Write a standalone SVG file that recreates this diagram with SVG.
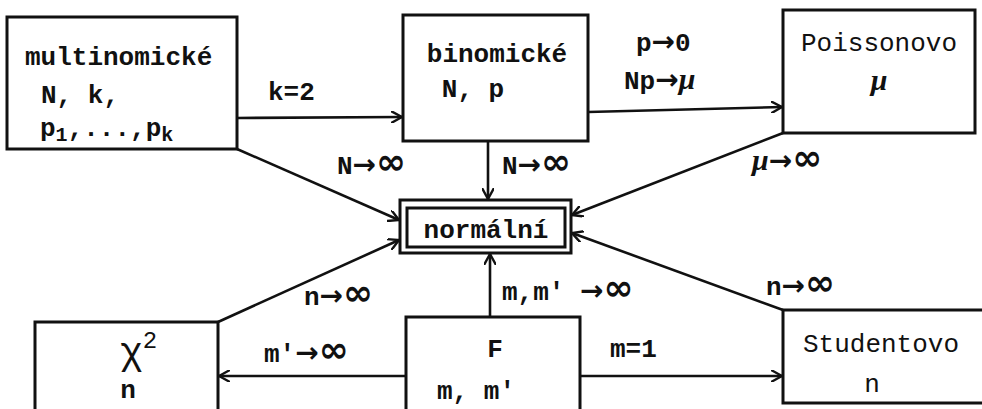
<svg xmlns="http://www.w3.org/2000/svg" width="982" height="409" viewBox="0 0 982 409">
<style>
.box{fill:#fff;stroke:#111;stroke-width:3}
.ln{stroke:#111;stroke-width:2.6;fill:none;marker-end:url(#ah)}
text{font-family:"Liberation Mono","DejaVu Sans Mono",monospace;fill:#111}
.b{font-weight:bold;font-size:26px}
.r{font-size:26px}
.lab{font-weight:bold;font-size:26px}
.ar{font-family:"DejaVu Sans",sans-serif;font-size:28px;font-weight:bold}
.inf{font-size:36px;font-weight:bold;font-family:"DejaVu Sans",sans-serif}
.mu{font-family:"Liberation Serif",serif;font-style:italic;font-weight:bold}
</style>
<defs>
<marker id="ah" viewBox="0 0 12 12" refX="11" refY="6" markerWidth="12" markerHeight="12" markerUnits="userSpaceOnUse" orient="auto">
<path d="M0,0 L11,6 L0,12" fill="none" stroke="#111" stroke-width="2.4"/>
</marker>
</defs>
<rect width="982" height="409" fill="#fff"/>
<g id="connectors">
<line class="ln" x1="237" y1="118" x2="402" y2="117"/>
<line class="ln" x1="588" y1="112" x2="782" y2="107"/>
<line class="ln" x1="237" y1="149" x2="399" y2="220"/>
<line class="ln" x1="488" y1="141" x2="488" y2="199"/>
<line class="ln" x1="783" y1="133" x2="572" y2="215"/>
<line class="ln" x1="218" y1="322" x2="399" y2="240"/>
<line class="ln" x1="490" y1="317" x2="490" y2="254"/>
<line class="ln" x1="783" y1="310" x2="572" y2="233"/>
<line class="ln" x1="406" y1="376" x2="219" y2="376"/>
<line class="ln" x1="580" y1="376" x2="782" y2="376"/>
<text class="lab" x="268" y="100">k=2</text>
<text class="lab" x="337" y="174">N<tspan class="ar">→</tspan><tspan class="inf">∞</tspan></text>
<text class="lab" x="502" y="174">N<tspan class="ar">→</tspan><tspan class="inf">∞</tspan></text>
<text class="lab" x="752" y="170"><tspan class="mu" font-size="30">μ</tspan><tspan class="ar">→</tspan><tspan class="inf">∞</tspan></text>
<text class="lab" x="636" y="51">p<tspan class="ar">→</tspan>0</text>
<text class="lab" x="624" y="89">Np<tspan class="ar">→</tspan><tspan class="mu" font-size="30">μ</tspan></text>
<text class="lab" x="304" y="305">n<tspan class="ar">→</tspan><tspan class="inf">∞</tspan></text>
<text class="lab" x="264" y="362">m'<tspan class="ar">→</tspan><tspan class="inf">∞</tspan></text>
<text class="lab" x="502" y="300">m,m' <tspan class="ar">→</tspan><tspan class="inf">∞</tspan></text>
<text class="lab" x="610" y="357">m=1</text>
<text class="lab" x="766" y="295">n<tspan class="ar">→</tspan><tspan class="inf">∞</tspan></text>
</g>
<g id="multinomicke">
<rect class="box" x="7" y="17" width="230" height="132"/>
<text class="b" x="25" y="65" font-size="27">multinomické</text>
<text class="b" x="41" y="103">N, k,</text>
<text class="b" x="40" y="136">p<tspan font-size="20" dy="5">1</tspan><tspan dy="-5">,...,p</tspan><tspan font-size="20" dy="5">k</tspan></text>
</g>
<g id="binomicke">
<rect class="box" x="403" y="15" width="185" height="126"/>
<text class="b" x="497" y="62" text-anchor="middle" font-size="28">binomické</text>
<text class="b" x="473" y="97" text-anchor="middle">N, p</text>
</g>
<g id="poissonovo">
<rect class="box" x="783" y="10" width="192" height="123"/>
<text class="r" x="879" y="51" text-anchor="middle">Poissonovo</text>
<text class="mu" x="879" y="90" text-anchor="middle" font-size="30">μ</text>
</g>
<g id="normalni">
<rect class="box" x="400" y="200" width="171" height="53"/>
<rect class="box" x="407" y="208" width="158" height="39"/>
<text class="b" x="486" y="238" text-anchor="middle" font-size="28">normální</text>
</g>
<g id="chi2">
<rect class="box" x="35" y="322" width="183" height="100"/>
<text x="120" y="364" font-family="Liberation Serif,serif" font-size="38">χ<tspan font-size="24" dy="-16">2</tspan></text>
<text class="b" x="128" y="398" text-anchor="middle">n</text>
</g>
<g id="F">
<rect class="box" x="406" y="317" width="174" height="100"/>
<text class="b" x="495" y="357" text-anchor="middle">F</text>
<text class="b" x="476" y="399" text-anchor="middle">m, m'</text>
</g>
<g id="studentovo">
<rect class="box" x="783" y="310" width="210" height="93"/>
<text class="r" x="881" y="352" text-anchor="middle">Studentovo</text>
<text class="r" x="872" y="392" text-anchor="middle">n</text>
</g>
</svg>
